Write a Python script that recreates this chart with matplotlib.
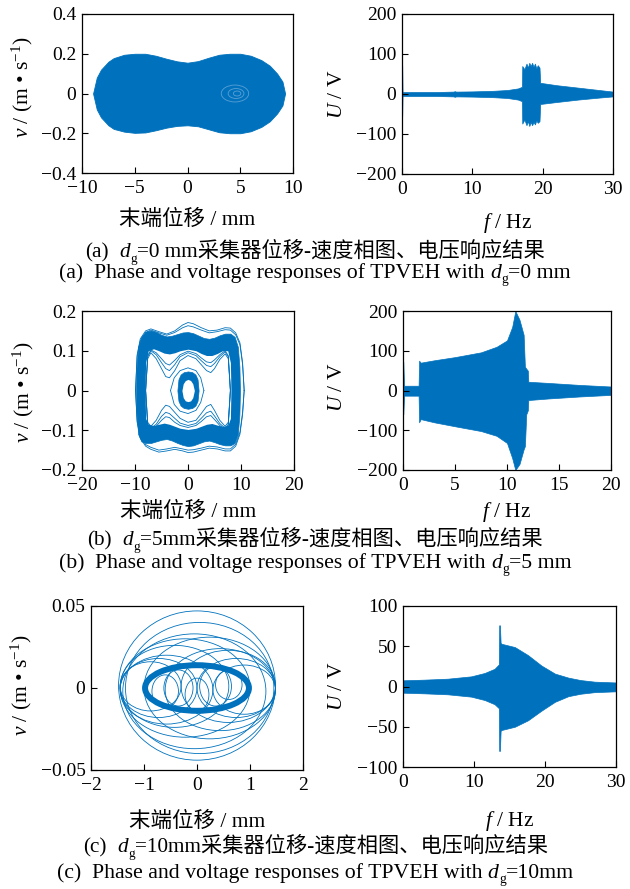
import matplotlib
matplotlib.use('Agg')
import matplotlib.pyplot as plt
from matplotlib.patches import Ellipse

BLUE = '#0072BD'
LIGHT = '#5b9fd6'
SERIF = ['Liberation Serif', 'Noto Sans CJK SC']
plt.rcParams['font.family'] = SERIF
plt.rcParams['mathtext.fontset'] = 'custom'
plt.rcParams['mathtext.rm'] = 'Liberation Serif'
plt.rcParams['mathtext.it'] = 'Liberation Serif:italic'
plt.rcParams['axes.unicode_minus'] = True

# ---------------- (a) d_g = 0 mm ----------------
pa_x = [-8.95, -8.6, -8.2, -7.5, -7.0, -6.0, -5.0, -4.0, -3.0, -2.0, -1.0, 0.0,
        1.0, 2.0, 3.0, 4.0, 5.0, 6.0, 7.0, 7.8, 8.5, 9.0, 9.25]
pa_upper = [0, 0.08, 0.12, 0.16, 0.178, 0.195, 0.2, 0.2, 0.19, 0.175, 0.162, 0.155,
            0.163, 0.18, 0.195, 0.2, 0.2, 0.19, 0.168, 0.14, 0.1, 0.06, 0]
pa_lower = [0, -0.08, -0.12, -0.16, -0.178, -0.192, -0.198, -0.196, -0.185, -0.172, -0.163, -0.16,
            -0.165, -0.18, -0.195, -0.2, -0.2, -0.19, -0.168, -0.14, -0.1, -0.06, 0]
# light rings around the focus near x = 4.7
pa_ring_cx = [4.7, 4.6, 4.5]
pa_ring_w = [0.7, 1.5, 2.6]
pa_ring_h = [0.025, 0.05, 0.085]

ua_f = [0, 0.03, 0.08, 0.15, 2, 5, 7.3, 7.5, 7.7, 10, 13, 15, 16.5, 17.05, 17.1, 17.4,
        17.7, 17.9, 18.1, 18.3, 18.5, 18.7, 18.9, 19.1, 19.3, 19.55, 19.65, 22, 25, 28, 30]
ua_upper = [72, 72, 6, 5, 5, 5, 6, 7, 6, 6.5, 8, 10, 14, 18, 70, 62, 76, 66, 78, 70, 78, 68,
            76, 64, 72, 66, 28, 22, 16, 10, 6]
ua_lower = [-55, -55, -6, -5, -5, -5, -6, -7, -6, -6.5, -8, -10, -14, -18, -74, -64, -78, -68,
            -80, -70, -78, -70, -76, -66, -72, -68, -25, -20, -14, -9, -6]

# ---------------- (b) d_g = 5 mm ----------------
pb_outer_x = [-9.8, -9.7, -9.4, -8.8, -8, -7, -6, -5, -4, -3, -2, -1, 0, 1, 2, 3, 4, 5, 6,
              7, 8, 8.8, 9.4, 9.7, 9.8]
pb_outer_up = [0, 0.06, 0.11, 0.135, 0.148, 0.151, 0.147, 0.14, 0.136, 0.138, 0.142, 0.146,
               0.147, 0.144, 0.138, 0.132, 0.13, 0.133, 0.139, 0.143, 0.143, 0.135, 0.11, 0.06, 0]
pb_outer_lo = [0, -0.06, -0.11, -0.128, -0.132, -0.132, -0.128, -0.124, -0.122, -0.126, -0.132,
               -0.137, -0.14, -0.138, -0.133, -0.128, -0.126, -0.13, -0.135, -0.138, -0.138,
               -0.132, -0.11, -0.06, 0]
pb_hole_x = [-8.1, -8.0, -7.5, -6.5, -5.5, -4.5, -3.5, -2.5, -1.5, 0, 1.5, 2.5, 3.5, 4.5,
             5.5, 6.5, 7.5, 8.0, 8.1]
pb_hole_up = [0, 0.07, 0.1, 0.105, 0.1, 0.094, 0.092, 0.095, 0.1, 0.104, 0.1, 0.093, 0.088,
              0.088, 0.093, 0.1, 0.1, 0.07, 0]
pb_hole_lo = [0, -0.07, -0.085, -0.088, -0.085, -0.082, -0.085, -0.09, -0.095, -0.098, -0.095,
              -0.09, -0.085, -0.083, -0.087, -0.09, -0.088, -0.07, 0]
pb_out1_x = [-9.9, -9.6, -9, -8, -7, -5.5, -4, -2.5, -1, 0, 1, 2.5, 4, 5.5, 7, 8, 9, 9.8, 10.3, 10.6]
pb_out1_up = [0, 0.09, 0.13, 0.15, 0.155, 0.148, 0.142, 0.15, 0.165, 0.171, 0.168, 0.158, 0.15,
              0.152, 0.158, 0.157, 0.145, 0.12, 0.07, 0]
pb_out1_lo = [0, -0.08, -0.12, -0.14, -0.148, -0.155, -0.152, -0.148, -0.152, -0.156, -0.155,
              -0.15, -0.145, -0.147, -0.152, -0.152, -0.14, -0.11, -0.06, 0]
pb_out2_up = [0, 0.085, 0.125, 0.146, 0.152, 0.145, 0.139, 0.146, 0.158, 0.163, 0.16, 0.152,
              0.145, 0.148, 0.153, 0.152, 0.14, 0.115, 0.065, 0]
pb_out2_lo = [0, -0.075, -0.115, -0.136, -0.143, -0.15, -0.147, -0.143, -0.147, -0.15, -0.149,
              -0.145, -0.14, -0.142, -0.147, -0.147, -0.135, -0.105, -0.055, 0]
pb_in_x = [-8.0, -7.6, -7, -6, -5, -4.2, -3.5, -2.5, -1.5, 0, 1.5, 2.5, 3.5, 4.3, 5, 6, 7, 7.6, 8.0]
pb_in1_up = [0, 0.08, 0.095, 0.08, 0.055, 0.035, 0.032, 0.05, 0.075, 0.088, 0.08, 0.065, 0.05,
             0.045, 0.055, 0.078, 0.092, 0.08, 0]
pb_in1_lo = [0, -0.08, -0.09, -0.075, -0.05, -0.037, -0.04, -0.055, -0.07, -0.08, -0.075,
             -0.058, -0.04, -0.035, -0.05, -0.075, -0.09, -0.08, 0]
pb_in2_up = [0, 0.085, 0.1, 0.09, 0.07, 0.055, 0.05, 0.065, 0.085, 0.095, 0.088, 0.075, 0.063,
             0.06, 0.068, 0.085, 0.097, 0.085, 0]
pb_in2_lo = [0, -0.085, -0.095, -0.085, -0.065, -0.055, -0.058, -0.07, -0.082, -0.088, -0.083,
             -0.07, -0.056, -0.052, -0.064, -0.083, -0.095, -0.085, 0]
pb_in3_up = [0, 0.088, 0.102, 0.095, 0.08, 0.068, 0.064, 0.076, 0.09, 0.099, 0.093, 0.082,
             0.072, 0.07, 0.077, 0.09, 0.1, 0.088, 0]
pb_in3_lo = [0, -0.088, -0.098, -0.09, -0.075, -0.066, -0.068, -0.08, -0.088, -0.093, -0.088,
             -0.078, -0.066, -0.063, -0.073, -0.088, -0.098, -0.088, 0]
pb_dia_x = [-3.3, -2.6, -1.5, 0, 1.5, 2.4, 3.0]
pb_dia_up = [0, 0.032, 0.05, 0.057, 0.05, 0.032, 0]
pb_dia_lo = [0, -0.035, -0.052, -0.058, -0.05, -0.03, 0]
pb_core_x = [-2.0, -1.8, -1.4, -0.8, 0, 0.8, 1.4, 1.8, 2.0]
pb_core_up = [0, 0.028, 0.04, 0.046, 0.048, 0.046, 0.04, 0.028, 0]
pb_core_lo = [0, -0.026, -0.038, -0.044, -0.046, -0.044, -0.038, -0.026, 0]
pb_coreh_x = [-1.15, -0.9, -0.5, 0, 0.5, 0.9, 1.2]
pb_coreh_up = [0, 0.017, 0.025, 0.028, 0.025, 0.017, 0]
pb_coreh_lo = [0, -0.018, -0.026, -0.028, -0.026, -0.018, 0]

ub_f = [0, 0.03, 0.1, 1.0, 1.5, 1.55, 1.7, 3, 5, 7.5, 9, 10, 10.5, 10.8, 11.2, 11.6, 11.72,
        11.85, 12.0, 12.05, 14, 17, 20]
ub_upper = [72, 72, 12, 12, 12, 75, 70, 76, 84, 96, 110, 126, 160, 200, 178, 140, 60, 55, 50,
            22, 19, 14, 10]
ub_lower = [-60, -60, -13, -13, -13, -80, -72, -80, -90, -102, -114, -132, -170, -200, -185,
            -148, -140, -60, -50, -24, -20, -15, -11]

# ---------------- (c) d_g = 10 mm ----------------
pc_main = (0.0, 0.0, 1.96, 0.0278)
pc_cx = [0.0, 0.05, -0.05, -0.225, -0.425, -0.575, -0.725, -0.875, 0.24, 0.44, 0.59, 0.74, 0.89,
         -0.35, 0.35, 0.0, 0.6, -0.6]
pc_cy = [0.0015, 0.0, -0.002, 0.0, 0.001, -0.001, 0.0, 0.001, 0.0, -0.001, 0.001, 0.0, -0.001,
         0.0, 0.001, -0.004, 0.002, -0.002]
pc_w = [2.96, 2.8, 2.7, 2.45, 2.05, 1.75, 1.45, 1.15, 2.48, 2.08, 1.78, 1.48, 1.18,
        0.55, 0.6, 0.45, 0.5, 0.5]
pc_h = [0.091, 0.08, 0.07, 0.06, 0.05, 0.042, 0.036, 0.03, 0.062, 0.05, 0.044, 0.036, 0.03,
        0.022, 0.024, 0.02, 0.018, 0.02]

uc_f = [0, 3, 6.3, 9.6, 11.5, 12.9, 13.5, 13.55, 13.65, 13.75, 13.9, 15.75, 17.6, 19.5, 21.4,
        23.3, 25, 27, 30]
uc_upper = [7.7, 8.5, 9.7, 12.6, 16.8, 22, 27.5, 76, 76, 54, 53, 49, 39, 26, 16, 11, 8, 6, 5]
uc_lower = [-7.7, -8.5, -9.7, -12.6, -16.8, -22, -27, -80, -80, -55, -54, -50, -42, -30, -19,
            -12, -9, -7, -6]

# ticks
xa_ticks = [-10, -5, 0, 5, 10]; xa_labels = ['−10', '−5', '0', '5', '10']
ya_ticks = [-0.4, -0.2, 0, 0.2, 0.4]; ya_labels = ['−0.4', '−0.2', '0', '0.2', '0.4']
fa_ticks = [0, 10, 20, 30]; fa_labels = ['0', '10', '20', '30']
va_ticks = [-200, -100, 0, 100, 200]; va_labels = ['−200', '−100', '0', '100', '200']
xb_ticks = [-20, -10, 0, 10, 20]; xb_labels = ['−20', '−10', '0', '10', '20']
yb_ticks = [-0.2, -0.1, 0, 0.1, 0.2]; yb_labels = ['−0.2', '−0.1', '0', '0.1', '0.2']
fb_ticks = [0, 5, 10, 15, 20]; fb_labels = ['0', '5', '10', '15', '20']
xc_ticks = [-2, -1, 0, 1, 2]; xc_labels = ['−2', '−1', '0', '1', '2']
yc_ticks = [-0.05, 0, 0.05]; yc_labels = ['−0.05', '0', '0.05']
fc_ticks = [0, 10, 20, 30]; fc_labels = ['0', '10', '20', '30']
vc_ticks = [-100, -50, 0, 50, 100]; vc_labels = ['−100', '−50', '0', '50', '100']

FS = 14
LFS = 15.5
W, H = 630, 889
fig = plt.figure(figsize=(W / 100, H / 100), dpi=100)
fig.patch.set_facecolor('white')


def add_ax(l, t, r, b):
    return fig.add_axes([l / W, 1 - b / H, (r - l) / W, (b - t) / H])


def style(ax, xlim, ylim, xt, xl, yt, yl):
    ax.set_xlim(xlim)
    ax.set_ylim(ylim)
    ax.set_xticks(xt)
    ax.set_xticklabels(xl)
    ax.set_yticks(yt)
    ax.set_yticklabels(yl)
    ax.tick_params(direction='in', length=4, width=0.8, labelsize=FS, top=False, right=False)
    ax.tick_params(axis='x', pad=5)
    ax.tick_params(axis='y', pad=4)
    for s in ax.spines.values():
        s.set_linewidth(0.9)


def labels(ax, xl, yl, xy, yx, yy):
    ax.set_xlabel(xl, fontsize=LFS)
    ax.set_ylabel(yl, fontsize=LFS)
    ax.xaxis.set_label_coords(0.5, xy)
    ax.yaxis.set_label_coords(yx, yy)


XLAB_PH = '末端位移 / mm'
YLAB_PH = r'$v$ / (m • s$^{-1}$)'
XLAB_F = r'$f$ / Hz'
YLAB_U = r'$U$ / V'

# (a) left
ax = add_ax(82, 14, 293, 173)
ax.fill_between(pa_x, pa_lower, pa_upper, color=BLUE, lw=0.6)
for cx, w, h in zip(pa_ring_cx, pa_ring_w, pa_ring_h):
    ax.add_patch(Ellipse((cx, 0), w, h, fill=False, ec=LIGHT, lw=0.6))
style(ax, (-10, 10), (-0.4, 0.4), xa_ticks, xa_labels, ya_ticks, ya_labels)
labels(ax, XLAB_PH, YLAB_PH, -0.23, -0.223, 0.54)

# (a) right
ax = add_ax(402, 14, 613, 174)
ax.fill_between(ua_f, ua_lower, ua_upper, color=BLUE, lw=0.5)
style(ax, (0, 30), (-200, 200), fa_ticks, fa_labels, va_ticks, va_labels)
labels(ax, XLAB_F, YLAB_U, -0.23, -0.261, 0.5)

# (b) left
ax = add_ax(82, 311, 294, 470)
for up, lo in ((pb_out1_up, pb_out1_lo), (pb_out2_up, pb_out2_lo)):
    ax.plot(pb_out1_x, up, color=BLUE, lw=0.6)
    ax.plot(pb_out1_x, lo, color=BLUE, lw=0.6)
ax.fill_between(pb_outer_x, pb_outer_lo, pb_outer_up, color=BLUE, lw=0.5)
ax.fill_between(pb_hole_x, pb_hole_lo, pb_hole_up, color='white', lw=0)
for up, lo in ((pb_in1_up, pb_in1_lo), (pb_in2_up, pb_in2_lo), (pb_in3_up, pb_in3_lo)):
    ax.plot(pb_in_x, up, color=BLUE, lw=0.6)
    ax.plot(pb_in_x, lo, color=BLUE, lw=0.6)
ax.plot(pb_dia_x, pb_dia_up, color=BLUE, lw=0.6)
ax.plot(pb_dia_x, pb_dia_lo, color=BLUE, lw=0.6)
ax.fill_between(pb_core_x, pb_core_lo, pb_core_up, color=BLUE, lw=0.5)
ax.fill_between(pb_coreh_x, pb_coreh_lo, pb_coreh_up, color='white', lw=0)
style(ax, (-20, 20), (-0.2, 0.2), xb_ticks, xb_labels, yb_ticks, yb_labels)
labels(ax, XLAB_PH, YLAB_PH, -0.2, -0.217, 0.49)

# (b) right
ax = add_ax(403, 311, 611, 470)
ax.fill_between(ub_f, ub_lower, ub_upper, color=BLUE, lw=0.5)
style(ax, (0, 20), (-200, 200), fb_ticks, fb_labels, va_ticks, va_labels)
labels(ax, XLAB_F, YLAB_U, -0.19, -0.269, 0.52)

# (c) left
ax = add_ax(91, 606, 303, 770)
for cx, cy, w, h in zip(pc_cx, pc_cy, pc_w, pc_h):
    ax.add_patch(Ellipse((cx, cy), w, h, fill=False, ec=BLUE, lw=0.6))
ax.add_patch(Ellipse(pc_main[:2], pc_main[2], pc_main[3], fill=False, ec=BLUE, lw=4.3))
style(ax, (-2, 2), (-0.05, 0.05), xc_ticks, xc_labels, yc_ticks, yc_labels)
labels(ax, XLAB_PH, YLAB_PH, -0.256, -0.269, 0.52)

# (c) right
ax = add_ax(403, 606, 616, 767)
ax.fill_between(uc_f, uc_lower, uc_upper, color=BLUE, lw=0.5)
style(ax, (0, 30), (-100, 100), fc_ticks, fc_labels, vc_ticks, vc_labels)
labels(ax, XLAB_F, YLAB_U, -0.26, -0.263, 0.5)

# ---------------- captions ----------------
CN_FS = 15.3
EN_FS = 15.7


def caption(ybase_px, segs, size):
    r = fig.canvas.get_renderer()
    objs, widths = [], []
    for txt, kind in segs:
        if kind == 'gap':
            objs.append(None)
            widths.append(txt * size / 72 * fig.dpi)
            continue
        kw = dict(fontsize=size, family=SERIF, va='baseline', ha='left')
        if kind == 'it':
            kw['fontstyle'] = 'italic'
        if kind == 'sub':
            kw['fontsize'] = size * 0.62
        t = fig.text(0, 0, txt, **kw)
        objs.append(t)
        widths.append(t.get_window_extent(r).width)
    x = W / 2 - sum(widths) / 2
    for o, w, (txt, kind) in zip(objs, widths, segs):
        if o is not None:
            dy = -0.22 * size / 72 * fig.dpi if kind == 'sub' else 0
            o.set_position((x / W, 1 - (ybase_px - dy) / H))
        x += w
        if kind == 'it':
            x += 0.5


def cap_pair(letter, dg, ycn, yen, dg_en):
    caption(ycn, [('(' + letter + ')', 'n'), (0.5, 'gap'), ('d', 'it'), ('g', 'sub'),
                  ('=' + dg + '采集器位移-速度相图、电压响应结果', 'n')], CN_FS)
    caption(yen, [('(' + letter + ')', 'n'), (0.5, 'gap'),
                  ('Phase and voltage responses of TPVEH with', 'n'), (0.25, 'gap'),
                  ('d', 'it'), ('g', 'sub'), ('=' + dg_en, 'n')], EN_FS)


cap_pair('a', '0 mm', 257, 278, '0 mm')
cap_pair('b', '5mm', 545, 568, '5 mm')
cap_pair('c', '10mm', 852, 878, '10mm')

fig.savefig('out.png', dpi=100, facecolor='white')
